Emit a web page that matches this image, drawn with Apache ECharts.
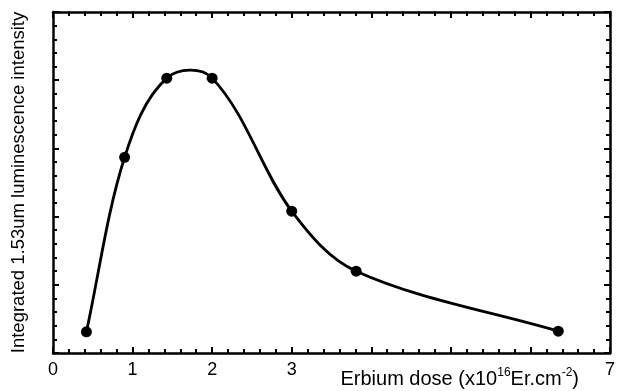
<!DOCTYPE html>
<html>
<head>
<meta charset="utf-8">
<script src="https://cdn.jsdelivr.net/npm/echarts@6/dist/echarts.min.js"></script>
<style>
  html, body { margin: 0; padding: 0; background: #fff; }
  #chart { width: 618px; height: 391px; }
</style>
</head>
<body>
<div id="chart"></div>
<script>
// Erbium dose (x10^16 Er/cm^2) vs integrated 1.53um luminescence (arb. units)
const doses = [0.42, 0.9, 1.43, 2.0, 3.0, 3.81, 6.35];
const intensity = [0.31, 2.87, 4.03, 4.03, 2.08, 1.2, 0.32];
const xTickLabels = ['0', '1', '2', '3', '', '', '', '7'];

const ink = '#000';
const font = '"Liberation Sans", Arial, sans-serif';

const chart = echarts.init(document.getElementById('chart'), null, { renderer: 'canvas' });

// shared frame styling for the four sides
function frameAxis(extra) {
  return Object.assign({
    type: 'value',
    axisLine: { show: true, onZero: false, lineStyle: { color: ink, width: 2.5 } },
    axisTick: { show: true, inside: true, length: 6, lineStyle: { color: ink, width: 2 } },
    minorTick: { show: true, splitNumber: 5, length: 4, lineStyle: { color: ink, width: 2 } },
    splitLine: { show: false },
    axisLabel: { show: false }
  }, extra);
}

// smooth curve through the measured points (pixel space): tangent follows
// the neighbours, handle length is a third of each segment
function renderCurve(params, api) {
  const pts = doses.map((d, i) => api.coord([d, intensity[i]]));
  const n = pts.length;
  const dirs = pts.map((p, i) => {
    const a = pts[Math.max(i - 1, 0)];
    const b = pts[Math.min(i + 1, n - 1)];
    const dx = b[0] - a[0], dy = b[1] - a[1];
    const len = Math.hypot(dx, dy) || 1;
    return [dx / len, dy / len];
  });
  let path = 'M' + pts[0][0] + ' ' + pts[0][1];
  for (let i = 0; i < n - 1; i++) {
    const p1 = pts[i], p2 = pts[i + 1];
    const h = Math.hypot(p2[0] - p1[0], p2[1] - p1[1]) / 3;
    const c1 = [p1[0] + dirs[i][0] * h, p1[1] + dirs[i][1] * h];
    const c2 = [p2[0] - dirs[i + 1][0] * h, p2[1] - dirs[i + 1][1] * h];
    path += ' C' + c1.join(' ') + ' ' + c2.join(' ') + ' ' + p2.join(' ');
  }
  return {
    type: 'path',
    shape: { pathData: path },
    style: { fill: null, stroke: ink, lineWidth: 2.8 }
  };
}

chart.setOption({
  animation: false,
  grid: { left: 53, right: 5, top: 12, bottom: 38 },
  xAxis: [
    frameAxis({
      position: 'bottom', min: 0, max: 7, interval: 1,
      axisLabel: {
        show: true, color: ink, fontFamily: font, fontSize: 18, margin: 8,
        formatter: (v) => xTickLabels[Math.round(v)] || ''
      },
      name: '{t|Erbium dose (x10}{s|16}{t|Er.cm}{s|-2}{t|)}',
      nameLocation: 'end',
      nameGap: 0,
      nameTextStyle: {
        align: 'right', verticalAlign: 'top',
        padding: [14, 31, 0, 0],
        rich: {
          t: { fontFamily: font, fontSize: 20, color: ink, verticalAlign: 'bottom' },
          s: { fontFamily: font, fontSize: 12, color: ink, verticalAlign: 'top', padding: [0, 0, 10, 0] }
        }
      }
    }),
    frameAxis({ position: 'top', min: 0, max: 7, interval: 1 })
  ],
  yAxis: [
    frameAxis({
      position: 'left', min: 0, max: 5, interval: 1,
      name: 'Integrated 1.53um luminescence intensity',
      nameLocation: 'middle',
      nameGap: 25,
      nameRotate: 90,
      nameTextStyle: { fontFamily: font, fontSize: 18.5, color: ink }
    }),
    frameAxis({ position: 'right', min: 0, max: 5, interval: 1 })
  ],
  series: [
    {
      type: 'custom',
      data: [[doses[0], intensity[0]]],
      renderItem: renderCurve,
      silent: true,
      z: 2
    },
    {
      type: 'scatter',
      data: doses.map((d, i) => [d, intensity[i]]),
      symbol: 'circle',
      symbolSize: 11,
      itemStyle: { color: ink, opacity: 1 },
      z: 3
    }
  ]
});
</script>
</body>
</html>
